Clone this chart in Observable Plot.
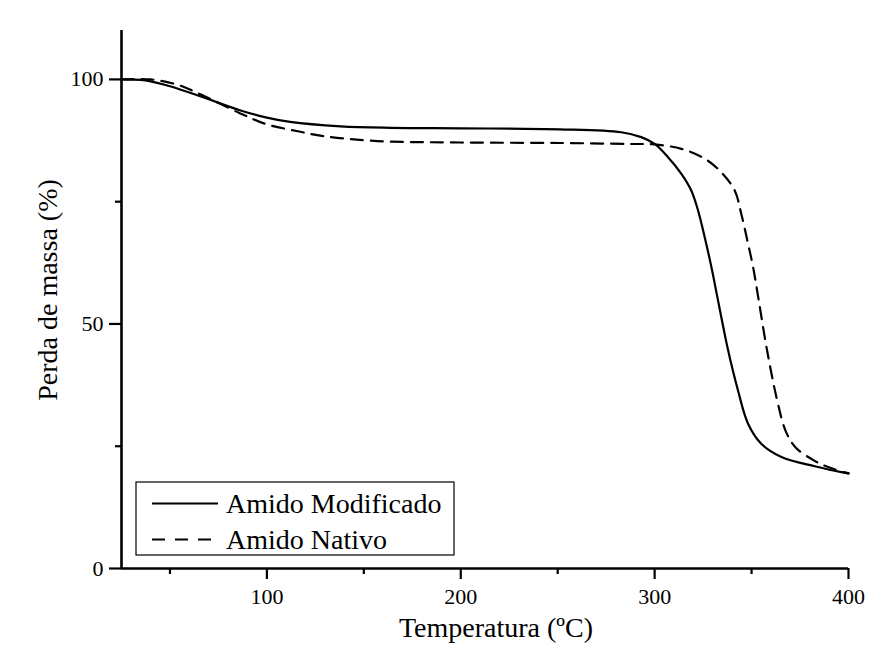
<!DOCTYPE html>
<html>
<head>
<meta charset="utf-8">
<script src="https://cdn.jsdelivr.net/npm/d3@7"></script>
<script src="https://cdn.jsdelivr.net/npm/@observablehq/plot@0.6"></script>
<style>
  html, body { margin: 0; padding: 0; background: #fff; }
</style>
</head>
<body>
<div id="chart"></div>
<script>
// Amido Modificado (solid)
const modTemp = [25, 35, 40, 50, 66, 86, 100, 112, 138, 164, 200, 251, 282.8, 293.1, 300, 306.9, 313.8, 318.9, 322.4, 325.8, 329.3, 332.7, 337.9, 343, 348.2, 355, 365.4, 382.6, 396.3, 400];
const modMass = [100, 99.9, 99.6, 98.6, 96.5, 93.7, 92.2, 91.3, 90.4, 90.1, 90.0, 89.8, 89.2, 88.2, 86.8, 84.1, 80.7, 77.3, 73.2, 67.8, 61.6, 54.8, 44.6, 36.4, 29.6, 25.5, 22.8, 20.9, 19.7, 19.5];
// Amido Nativo (dashed)
const natTemp = [25, 40, 54, 66, 86, 100, 116, 129, 157, 200, 251, 286.3, 300, 313.8, 325.8, 334.4, 341.3, 344.7, 348.2, 350.8, 353.7, 358, 363.2, 367.5, 372.6, 382.1, 389.8, 400];
const natMass = [100, 100, 98.9, 96.9, 93.1, 90.8, 89.4, 88.4, 87.4, 87.1, 87.0, 86.8, 86.7, 85.8, 83.8, 81, 77.3, 72.5, 66.4, 61.6, 54.8, 44.6, 34.4, 28.2, 24.8, 22.1, 20.7, 19.4];

const seriesNames = ["Amido Modificado", "Amido Nativo"];
const xMajor = [100, 200, 300, 400];
const xMinor = [50, 150, 250, 350];
const yMajor = [0, 50, 100];
const yMinor = [25, 75];

const mod = modTemp.map((t, i) => ({t, m: modMass[i]}));
const nat = natTemp.map((t, i) => ({t, m: natMass[i]}));

const FONT = '"Liberation Serif", "Times New Roman", serif';
const W = 889, H = 648;
const chart = Plot.plot({
  width: W,
  height: H,
  marginLeft: 121,
  marginRight: 41,
  marginTop: 30,
  marginBottom: 80,
  style: {fontFamily: FONT, background: "#fff", color: "#000", overflow: "visible"},
  x: {domain: [25, 400]},
  y: {domain: [0, 110]},
  marks: [
    Plot.axisX({ticks: xMajor, tickSize: 11, tickPadding: 9, strokeWidth: 2.2, fontSize: 22, fontFamily: FONT, label: null}),
    Plot.axisX({ticks: xMinor, tickSize: 6, strokeWidth: 2.2, text: null, label: null}),
    Plot.axisY({ticks: yMajor, tickSize: 12, tickPadding: 6, strokeWidth: 2.2, fontSize: 22, fontFamily: FONT, label: null}),
    Plot.axisY({ticks: yMinor, tickSize: 6, strokeWidth: 2.2, text: null, label: null}),
    Plot.ruleY([0], {strokeWidth: 2.6}),
    Plot.ruleX([25], {strokeWidth: 2.6}),
    Plot.line(mod, {x: "t", y: "m", stroke: "#000", strokeWidth: 2.2, curve: "catmull-rom"}),
    Plot.line(nat, {x: "t", y: "m", stroke: "#000", strokeWidth: 2.2, strokeDasharray: "12,8", curve: "catmull-rom"})
  ]
});

const svg = d3.select(chart);
// axis titles
svg.append("text")
  .attr("x", 496).attr("y", 637)
  .attr("text-anchor", "middle")
  .attr("font-family", FONT)
  .attr("font-size", 28)
  .attr("fill", "#000")
  .text("Temperatura (ºC)");
svg.append("text")
  .attr("transform", "translate(57,290) rotate(-90)")
  .attr("text-anchor", "middle")
  .attr("font-family", FONT)
  .attr("font-size", 28)
  .attr("fill", "#000")
  .text("Perda de massa (%)");

// legend
const lg = svg.append("g");
lg.append("rect").attr("x", 136).attr("y", 482).attr("width", 318).attr("height", 73)
  .attr("fill", "#fff").attr("stroke", "#000").attr("stroke-width", 1.2);
const dashes = [null, "13,10"];
seriesNames.forEach((name, i) => {
  const cy = 503.5 + i * 36;
  lg.append("line").attr("x1", 152).attr("x2", 218).attr("y1", cy).attr("y2", cy)
    .attr("stroke", "#000").attr("stroke-width", 2.2)
    .attr("stroke-dasharray", dashes[i]);
  lg.append("text").attr("x", 226).attr("y", cy).attr("dy", "0.35em")
    .attr("text-anchor", "start")
    .attr("font-family", FONT)
    .attr("font-size", 28).attr("fill", "#000").text(name);
});

document.getElementById("chart").appendChild(chart);
</script>
</body>
</html>
